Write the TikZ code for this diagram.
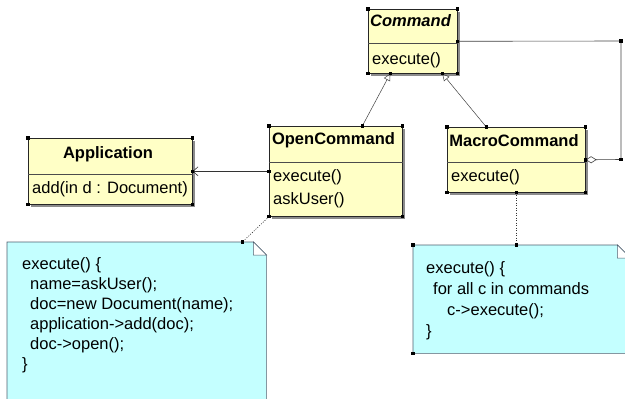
\documentclass[tikz,border=0pt]{standalone}
\usepackage{fontspec}
\setmainfont{Liberation Sans}
\usetikzlibrary{calc, shapes, arrows.meta, shadows, positioning}
\definecolor{clsfill}{HTML}{FFFFC6}
\definecolor{notefill}{HTML}{C4FFFF}
\definecolor{noteedge}{HTML}{4F5F6F}
\newcommand{\umlfont}{\fontsize{16.5}{20}\selectfont}
\tikzstyle{cls} = [draw=black!85, fill=clsfill, rectangle, anchor=north west,
    inner sep=0pt, line width=0.6pt,
    drop shadow={shadow xshift=3pt, shadow yshift=-3pt, fill=black!45, opacity=1}]
\tikzstyle{divider} = [draw=black!70, line width=0.5pt]
\tikzstyle{clsname} = [anchor=base, inner sep=0pt, font=\umlfont\bfseries]
\tikzstyle{op} = [anchor=base west, inner sep=0pt, font=\umlfont]
\tikzstyle{handle} = [fill=black, rectangle, minimum size=3.5pt, inner sep=0pt]
\tikzstyle{notebody} = [draw=noteedge, fill=notefill, line width=0.6pt]
\tikzstyle{notefold} = [draw=noteedge, fill=white, line width=0.5pt]
\tikzstyle{notetext} = [anchor=north west, align=left, inner sep=0pt]
\tikzstyle{genarrow} = [-{Triangle[open, length=7pt, width=7pt]}, draw=black!75, line width=0.5pt]
\tikzstyle{assoc} = [-{Straight Barb[length=5pt, width=9pt]}, draw=black!80, line width=0.6pt]
\tikzstyle{aggr} = [{Diamond[open, length=11pt, width=7pt]}-, draw=black!75, line width=0.6pt]
\tikzstyle{notelink} = [draw=black!80, line width=0.6pt, dash pattern=on 1pt off 1.5pt]

\begin{document}
\begin{tikzpicture}[x=1pt, y=-1pt]
    \useasboundingbox (0,0) rectangle (625,399);

    \node[anchor=north west, inner sep=0pt, minimum width=259pt, minimum height=170pt, name=noteL] at (7,242) {};
    \node[anchor=north west, inner sep=0pt, minimum width=217pt, minimum height=108pt, name=noteR] at (413,245) {};
    \draw[notebody] (noteL.south west) |- ([xshift=-13pt]noteL.north east) -- ([yshift=-13pt]noteL.north east) -- (noteL.south east) -- cycle;
    \draw[notefold] ([xshift=-13pt]noteL.north east) -- ++(0,13) -- ++(13,0) -- cycle;
    \draw[notebody] (noteR.south west) |- ([xshift=-13pt]noteR.north east) -- ([yshift=-13pt]noteR.north east) -- (noteR.south east) -- cycle;
    \draw[notefold] ([xshift=-13pt]noteR.north east) -- ++(0,13) -- ++(13,0) -- cycle;
    \node[notetext, font=\fontsize{16.5}{20}\selectfont] at (22,257) {execute() \{\\
        \hspace*{8pt}name=askUser();\\
        \hspace*{8pt}doc=new Document(name);\\
        \hspace*{8pt}application->add(doc);\\
        \hspace*{8pt}doc->open();\\
        \}};
    \node[notetext, font=\fontsize{16.5}{21}\selectfont] at (426,261) {execute() \{\\
        \hspace*{7pt}for all c in commands\\
        \hspace*{21pt}c->execute();\\
        \}};

    \node[cls, minimum width=89pt, minimum height=64pt, name=cmd] at (368,9) {};
    \node[cls, minimum width=133pt, minimum height=90pt, name=open] at (269,126) {};
    \node[cls, minimum width=138pt, minimum height=65pt, name=macro] at (447,127) {};
    \node[cls, minimum width=164pt, minimum height=66pt, name=app] at (28,138) {};

    \draw[divider] ($(cmd.north west)+(0,34)$) -- ($(cmd.north east)+(0,34)$);
    \draw[divider] ($(open.north west)+(0,36)$) -- ($(open.north east)+(0,36)$);
    \draw[divider] ($(macro.north west)+(0,35)$) -- ($(macro.north east)+(0,35)$);
    \draw[divider] ($(app.north west)+(0,36)$) -- ($(app.north east)+(0,36)$);

    \node[clsname] at (410.5,26) {\itshape Command};
    \node[op] at (372,64) {execute()};
    \node[clsname] at (333.5,144) {OpenCommand};
    \node[op] at (273,181) {execute()};
    \node[op] at (273,204) {askUser()};
    \node[clsname] at (514,146) {MacroCommand};
    \node[op] at (451,181) {execute()};
    \node[clsname] at (108,158) {Application};
    \node[op] at (32,193) {add(in d : Document)};

    \coordinate (cmd-a) at ([xshift=-22.5pt]cmd.south);
    \coordinate (cmd-b) at ([xshift=29.5pt]cmd.south);
    \coordinate (open-top) at ([xshift=26.5pt]open.north);
    \coordinate (macro-top) at ([xshift=-30pt]macro.north);
    \coordinate (bend-low) at (621,159.5);
    \coordinate (bend-up) at (621,41);
    \coordinate (noteL-top) at ([xshift=-24pt]noteL.north east);
    \coordinate (noteR-top) at (macro.south |- noteR.north);

    \draw[genarrow] (open-top) -- (cmd-a);
    \draw[genarrow] (macro-top) -- (cmd-b);
    \draw[assoc] (open.west) -- (app.east);
    \draw[aggr] (macro.east) -- (bend-low) -- (bend-up) -- (cmd.east);
    \draw[notelink] (open.south west) -- (noteL-top);
    \draw[notelink] (macro.south) -- (noteR-top);

    \foreach \p in {cmd.north west, cmd.north east, cmd.south west, cmd.south east, cmd.east, cmd-a, cmd-b,
        open.north west, open.north east, open.south west, open.south east, open.west, open-top,
        macro.north west, macro.north east, macro.south west, macro.south east, macro.east, macro.south, macro-top,
        app.north west, app.north east, app.south west, app.south east, app.east,
        bend-low, bend-up, noteL-top, noteR-top, noteR.north west, noteR.south west}
        \node[handle] at (\p) {};
\end{tikzpicture}
\end{document}
